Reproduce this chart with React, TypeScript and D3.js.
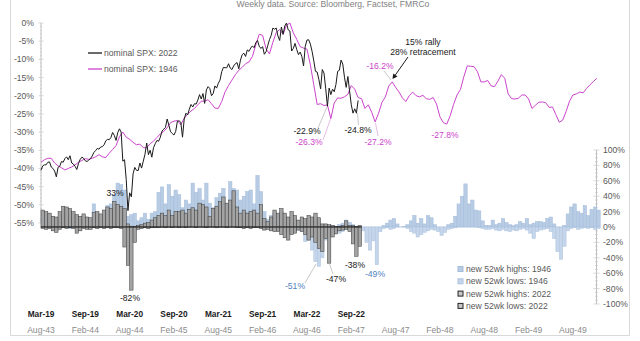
import React from "react";
import * as d3 from "d3";

// ---- tick labels ----
const labels2022 = ["Mar-19", "Sep-19", "Mar-20", "Sep-20", "Mar-21", "Sep-21", "Mar-22", "Sep-22"];
const labels1946 = ["Aug-43", "Feb-44", "Aug-44", "Feb-45", "Aug-45", "Feb-46", "Aug-46", "Feb-47", "Aug-47", "Feb-48", "Aug-48", "Feb-49", "Aug-49"];
const leftTicks = [0, -5, -10, -15, -20, -25, -30, -35, -40, -45, -50, -55];
const rightTicks = [100, 80, 60, 40, 20, 0, -20, -40, -60, -80, -100];

// ---- nominal SPX 2022 cycle, % from peak, weekly ----
const spx2022 = [
  -40.5, -39.3, -39.0, -39.0, -38.3, -38.2, -39.6, -40.0, -40.7, -42.3,
  -39.7, -39.4, -38.1, -38.3, -37.3, -36.8, -37.6, -36.5, -38.5, -38.8,
  -39.4, -40.3, -38.6, -37.5, -36.9, -37.2, -37.9, -38.1, -37.7, -37.3,
  -36.6, -35.6, -35.1, -34.5, -34.7, -34.1, -34.0, -33.5, -32.4, -32.0,
  -32.1, -31.5, -30.1, -30.9, -32.3, -30.2, -29.1, -30.0, -38.0, -37.6,
  -43.1, -51.6, -46.7, -47.8, -41.5, -39.7, -40.5, -40.6, -38.5, -39.9,
  -38.0, -36.1, -33.0, -36.2, -35.0, -36.9, -34.3, -33.2, -32.3, -32.5,
  -31.4, -29.7, -29.2, -28.7, -26.4, -28.1, -29.9, -30.4, -30.8, -29.8,
  -27.0, -26.9, -27.3, -31.4, -26.4, -24.8, -25.3, -23.7, -22.4, -23.1,
  -22.2, -22.3, -21.2,
  -19.7, -20.9, -19.4, -22.1, -18.4, -17.5, -18.0, -20.0, -19.4, -17.3,
  -17.9, -16.6, -15.7, -13.4, -12.2, -12.3, -12.3, -11.2, -12.4, -12.8,
  -11.8, -11.2, -10.9, -12.6, -10.2, -8.7, -8.3, -9.2, -7.4, -7.8,
  -6.9, -6.3, -6.8, -5.4, -4.8, -6.4, -7.0, -6.5, -8.6, -7.9,
  -6.2, -4.6, -3.4, -1.4, -1.7, -1.4, -3.6, -4.8, -1.1, -3.1,
  -0.8, 0.0,
  -1.9, -2.2, -7.7, -7.0, -5.6, -7.3, -8.7, -8.0, -9.2, -11.8,
  -6.4, -4.7, -4.6, -5.8, -7.8, -10.4, -13.3, -13.5, -15.6, -18.1,
  -12.8, -13.8, -18.1, -22.9, -17.9, -19.7, -18.2, -18.9, -16.9, -13.3,
  -13.0, -10.2, -11.3, -14.9, -17.7, -14.7, -18.7, -22.5, -24.8, -23.6,
  -24.8, -21.3,
];

// ---- nominal SPX 1946 cycle, % from peak, every 2 weeks ----
const spx1946 = [
  -38.3, -37.6, -37.2, -37.2, -38.5, -39.3, -39.8, -40.4, -40.0, -39.6,
  -39.0, -38.3, -37.8, -37.3, -37.5, -37.2, -36.8, -36.2, -36.8, -37.0,
  -35.8, -34.8, -33.7, -31.3, -30.0, -31.4, -32.0, -32.8, -33.5, -33.3,
  -34.3, -34.3, -33.2, -32.5, -31.5, -30.5, -29.8, -28.8, -27.4, -27.0,
  -26.8, -28.0, -26.2, -25.1, -24.2, -23.5, -22.5, -21.5, -21.5, -21.1,
  -22.2, -23.4, -23.5, -21.6, -18.9, -17.2, -15.7, -14.2, -13.0, -12.2,
  -11.2, -10.7, -9.2, -6.0, -3.1, -3.4, -7.1, -8.5, -5.3, -2.6,
  -1.8, -3.1, -0.6, 0.0, -2.7, -4.5, -6.5, -6.9, -7.2, -11.5,
  -17.0, -22.4, -22.2, -22.7, -22.5, -26.3, -22.0, -20.6, -20.7, -20.3,
  -19.6, -17.2, -18.2, -20.5, -20.8, -23.5, -22.5, -24.6, -27.2, -24.8,
  -21.8, -20.3, -17.3, -16.2, -17.7, -19.0, -20.6, -21.6, -20.0, -19.0,
  -20.0, -20.3, -19.9, -20.8, -21.0, -20.5, -22.3, -25.8, -27.4, -27.8,
  -25.5, -22.4, -19.8, -18.3, -14.8, -11.8, -11.9, -12.0, -13.4, -16.2,
  -16.2, -15.8, -17.3, -17.5, -16.0, -14.2, -15.2, -19.5, -20.8, -20.9,
  -20.7, -19.8, -19.8, -20.9, -23.5, -22.6, -21.8, -21.7, -21.9, -23.2,
  -23.1, -25.2, -27.3, -26.7, -24.3, -21.5, -19.8, -19.5, -19.0, -19.2,
  -18.0, -17.0, -16.1, -15.2,
];

// ---- % of stocks at new 52wk highs / lows, every 2 weeks ----
const highs1946 = [
  10, 12, 8, 10, 6, 12, 15, 10, 12, 8,
  10, 8, 12, 10, 8, 30, 12, 10, 15, 28,
  30, 42, 57, 55, 48, 14, 16, 18, 8, 12,
  18, 10, 18, 20, 45, 52, 30, 55, 40, 48,
  42, 25, 35, 30, 57, 45, 50, 35, 57, 31,
  25, 38, 44, 50, 30, 59, 50, 48, 35, 40,
  46, 48, 30, 67, 46, 20, 10, 15, 18, 15,
  20, 12, 10, 8, 8, 5, 6, 5, 3, 2,
  2, 0, 0, 0, 0, 2, 0, 3, 5, 9,
  6, 3, 1, 0, 0, 0, 0, 0, 0, 0,
  2, 5, 9, 11, 4, 0, 1, 3, 8, 15,
  5, 11, 4, 15, 12, 3, 0, 0, 0, 3,
  5, 14, 30, 40, 56, 30, 35, 22, 21, 8,
  2, 2, 9, 3, 5, 11, 6, 3, 2, 3,
  7, 5, 11, 3, 5, 7, 7, 6, 11, 13,
  4, 0, 0, 2, 17, 26, 30, 20, 18, 28,
  15, 23, 26, 22,
];
const lows1946 = [
  0, -1, 0, -2, -1, 0, -1, 0, -2, -1,
  -1, 0, 0, -1, 0, 0, -1, 0, 0, 0,
  0, 0, 0, 0, -2, -4, -3, -2, -1, 0,
  0, 0, 0, 0, 0, 0, 0, 0, 0, 0,
  0, 0, 0, 0, 0, 0, 0, 0, 0, 0,
  0, 0, 0, 0, 0, 0, 0, 0, -1, 0,
  0, 0, 0, 0, 0, -2, -1, -2, -3, -4,
  -6, -8, -5, -4, -3, -4, -6, -19, -17, -30,
  -45, -51, -40, -17, -10, -6, -8, -8, -6, -3,
  -3, -10, -15, -8, -5, -20, -30, -18, -49, -6,
  -2, -1, -3, -2, 0, 0, 0, -2, -6, -8,
  -13, -10, -7, -5, -3, -4, -6, -11, -7, -3,
  -2, -1, 0, 0, 0, 0, 0, 0, -1, -2,
  -3, -3, -2, -4, -5, -3, -5, -6, -4, -5,
  -3, -2, -4, -8, -15, -6, -4, -3, -2, -6,
  -15, -32, -42, -25, -5, -2, -1, -3, -2, -1,
  -2, -1, -3, -2,
];
const highs2022 = [
  22, 20, 18, 14, 13, 20, 27, 26, 24, 20,
  16, 14, 17, 13, 12, 19, 20, 17, 22, 26,
  24, 33, 29, 27, 24, 4, 1, 1, 2, 3,
  5, 6, 9, 12, 15, 18, 15, 22, 15, 20,
  20, 22, 18, 23, 25, 22, 31, 29, 26, 14,
  24, 27, 33, 39, 31, 35, 47, 26, 18, 22,
  18, 20, 22, 18, 29, 11, 7, 13, 22, 18,
  24, 18, 13, 20, 15, 9, 13, 11, 15, 13,
  18, 12, 4, 4, 3, 2, 1, 1, 2, 8,
  2, 2, 1, 2,
];
const lows2022 = [
  -2, -3, -2, -5, -7, -3, -1, -2, -1, -2,
  -8, -5, -2, -3, -3, -1, -2, -1, -2, -1,
  -2, -1, -1, -2, -26, -50, -82, -20, -3, -2,
  -1, -2, -1, -1, -1, 0, -1, 0, -1, 0,
  -1, 0, -1, 0, 0, -1, 0, 0, -1, 0,
  0, -1, 0, 0, -1, 0, 0, -1, -1, -2,
  -1, -2, -1, -1, -2, -4, -3, -5, -6, -6,
  -10, -14, -17, -10, -8, -4, -6, -10, -17, -13,
  -20, -28, -32, -15, -47, -13, -9, -5, -4, -3,
  -6, -22, -38, -25,
];

const FONT = "'Liberation Sans', Arial, Helvetica, sans-serif";
const GREY_TXT = "#595959";
const MAGENTA = "#cc44cc";
const BLUE_TXT = "#4f81bd";
const LIGHT_BLUE = "#b8cce4";
const LIGHT_BLUE2 = "#c5d5ea";
const BAR_GREY = "#a3a3a3";

export default function App() {
  const xs = d3.scaleLinear().domain([0, 326]).range([41, 596.8]);
  const yL = d3.scaleLinear().domain([-55, 0]).range([223, 23]);
  const yR = d3.scaleLinear().domain([-100, 100]).range([304, 150]);
  const bw = xs(2) - xs(0);

  const line2022 = d3.line<number>().x((_, i) => xs(i)).y((d) => yL(d));
  const line1946 = d3.line<number>().x((_, i) => xs(2 * i)).y((d) => yL(d));

  const bar = (vals: number[], fill: string, stroke: string, sw: number, key: string) =>
    vals.map((v, i) => {
      const y0 = yR(0);
      const y1 = yR(v);
      return (
        <rect
          key={key + i}
          x={xs(2 * i)}
          width={bw}
          y={Math.min(y0, y1)}
          height={Math.max(0.01, Math.abs(y1 - y0))}
          fill={fill}
          stroke={stroke}
          strokeWidth={sw}
        />
      );
    });

  const leftMinor = d3.range(0, -56, -1);
  const rightMinor = d3.range(100, -101, -5);

  const txt = (x: number, y: number, s: string, fill: string, anchor = "middle", extra: any = {}) => (
    <text x={x} y={y} dy="0.35em" textAnchor={anchor} fill={fill} fontSize={8.6} fontFamily={FONT} {...extra}>
      {s}
    </text>
  );

  // arrow geometry
  const ax0 = 408, ay0 = 57, ax1 = 392.5, ay1 = 79;
  const ang = Math.atan2(ay1 - ay0, ax1 - ax0);
  const ah = 5, aw = 2.6;
  const bx = ax1 - ah * Math.cos(ang), by = ay1 - ah * Math.sin(ang);
  const arrowPts = [
    [ax1, ay1],
    [bx + aw * Math.sin(ang), by - aw * Math.cos(ang)],
    [bx - aw * Math.sin(ang), by + aw * Math.cos(ang)],
  ].map((p) => p.join(",")).join(" ");

  return (
    <svg width={640} height={341} style={{ position: "absolute", left: 0, top: 0, background: "#fff" }} fontFamily={FONT}>
      <rect x={0} y={0} width={640} height={341} fill="#fff" />
      {/* frame */}
      <path d="M10.5,0 V335.5 H629.5 V0" fill="none" stroke="#d9d9d9" strokeWidth={1} />

      {/* title */}
      <text x={333} y={7} textAnchor="middle" fill="#7f7f7f" fontSize={8.6}>
        Weekly data.  Source: Bloomberg, Factset, FMRCo
      </text>

      {/* left axis */}
      <line x1={41} x2={41} y1={yL(0)} y2={yL(-55)} stroke="#bfbfbf" strokeWidth={1} />
      {leftMinor.map((v) => (
        <line key={"lm" + v} x1={v % 5 === 0 ? 38.5 : 40} x2={v % 5 === 0 ? 43.5 : 42} y1={yL(v)} y2={yL(v)} stroke="#c8c8c8" strokeWidth={0.7} />
      ))}
      {leftTicks.map((v) => (
        <g key={"lt" + v}>{txt(34, yL(v), `${v}%`, GREY_TXT, "end")}</g>
      ))}

      {/* right axis */}
      <line x1={596.5} x2={596.5} y1={yR(100)} y2={yR(-100)} stroke="#bfbfbf" strokeWidth={1} />
      {rightMinor.map((v) => (
        <line key={"rm" + v} x1={v % 20 === 0 ? 593.5 : 595} x2={v % 20 === 0 ? 599.5 : 598} y1={yR(v)} y2={yR(v)} stroke="#c8c8c8" strokeWidth={0.7} />
      ))}
      {rightTicks.map((v) => (
        <g key={"rt" + v}>{txt(603, yR(v), `${v}%`, GREY_TXT, "start")}</g>
      ))}

      {/* bars 1946 */}
      {bar(highs1946, LIGHT_BLUE, "#a3bcdc", 0.5, "h46")}
      {bar(lows1946, LIGHT_BLUE2, "#adc3df", 0.5, "l46")}
      {/* bars 2022 */}
      {bar(highs2022, BAR_GREY, "#3a3a3a", 0.5, "h22")}
      {bar(lows2022, BAR_GREY, "#3a3a3a", 0.5, "l22")}
      <line x1={41} x2={xs(2 * highs2022.length)} y1={yR(0)} y2={yR(0)} stroke="#262626" strokeWidth={1} />

      {/* lines */}
      <path d={line1946(spx1946) || ""} fill="none" stroke={MAGENTA} strokeWidth={1} strokeLinejoin="round" />
      <path d={line2022(spx2022) || ""} fill="none" stroke="#1a1a1a" strokeWidth={1} strokeLinejoin="round" />

      {/* legend top-left */}
      <line x1={88} x2={102} y1={53} y2={53} stroke="#1a1a1a" strokeWidth={1.3} />
      {txt(104, 53, "nominal SPX: 2022", GREY_TXT, "start")}
      <line x1={88} x2={102} y1={69} y2={69} stroke={MAGENTA} strokeWidth={1.3} />
      {txt(104, 69, "nominal SPX: 1946", GREY_TXT, "start")}

      {/* annotations: lines */}
      {txt(423, 42, "15% rally", "#1a1a1a")}
      {txt(423, 52, "28% retracement", "#1a1a1a")}
      <line x1={ax0} y1={ay0} x2={bx} y2={by} stroke="#1a1a1a" strokeWidth={1} />
      <polygon points={arrowPts} fill="#1a1a1a" />

      <line x1={384} y1={71} x2={391} y2={80} stroke="#b0b0b0" strokeWidth={0.7} />
      {txt(380, 66, "-16.2%", MAGENTA)}

      <line x1={318} y1={128} x2={327} y2={107} stroke="#b0b0b0" strokeWidth={0.7} />
      {txt(307, 130.5, "-22.9%", "#1a1a1a")}
      <line x1={323} y1={140} x2={330.5} y2={119} stroke="#d9a0d9" strokeWidth={0.7} />
      {txt(309, 141.5, "-26.3%", MAGENTA)}

      <line x1={358.5} y1={125} x2={357.5} y2={113} stroke="#b0b0b0" strokeWidth={0.7} />
      {txt(358, 130, "-24.8%", "#1a1a1a")}
      <line x1={378} y1={136} x2={375.5} y2={123} stroke="#d9a0d9" strokeWidth={0.7} />
      {txt(378, 141.5, "-27.2%", MAGENTA)}
      {txt(445, 135, "-27.8%", MAGENTA)}

      {/* annotations: bars */}
      {txt(115, 193, "33%", "#1a1a1a")}
      {txt(130, 297.5, "-82%", "#1a1a1a")}
      <line x1={305} y1={283} x2={316} y2={264} stroke="#b0b0b0" strokeWidth={0.7} />
      {txt(295, 285.5, "-51%", BLUE_TXT)}
      <line x1={333} y1={274} x2={329.5} y2={264} stroke="#b0b0b0" strokeWidth={0.7} />
      {txt(336, 279, "-47%", "#1a1a1a")}
      {txt(355, 265, "-38%", "#1a1a1a")}
      {txt(375, 273.5, "-49%", BLUE_TXT)}

      {/* legend bottom-right */}
      {[
        { label: "new 52wk highs: 1946", fill: LIGHT_BLUE, stroke: "#a3bcdc" },
        { label: "new 52wk lows: 1946", fill: LIGHT_BLUE2, stroke: "#adc3df" },
        { label: "new 52wk highs: 2022", fill: "#c8c8c8", stroke: "#262626" },
        { label: "new 52wk lows: 2022", fill: "#c8c8c8", stroke: "#262626" },
      ].map((d, i) => {
        const cy = 269 + i * 12.3;
        return (
          <g key={"lg" + i}>
            <rect x={458} y={cy - 2.5} width={5} height={5} fill={d.fill} stroke={d.stroke} strokeWidth={1} />
            {txt(466, cy, d.label, GREY_TXT, "start")}
          </g>
        );
      })}

      {/* x labels */}
      {labels2022.map((s, i) => (
        <g key={"x22" + i}>{txt(xs(26 * i), 314, s, "#1a1a1a", "middle", { fontWeight: "bold", fontSize: 8.3 })}</g>
      ))}
      {labels1946.map((s, i) => (
        <g key={"x46" + i}>{txt(xs(26 * i), 329.5, s, "#8c8c8c", "middle")}</g>
      ))}
    </svg>
  );
}
